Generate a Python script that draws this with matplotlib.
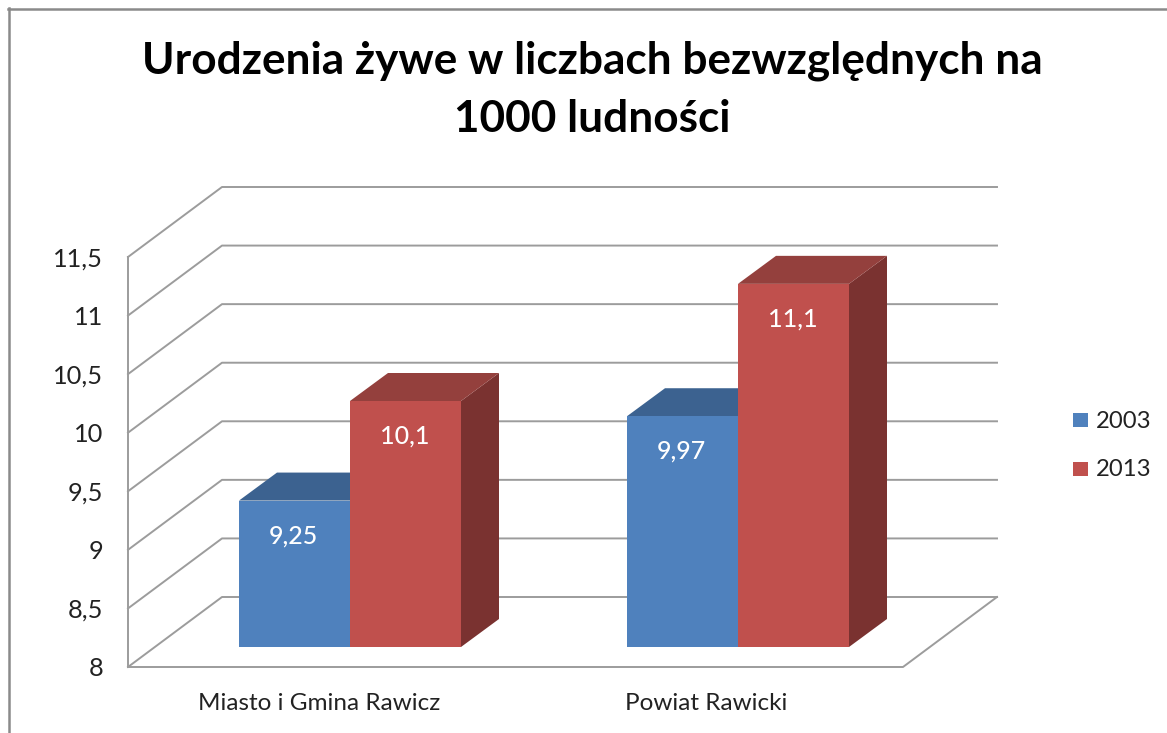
"""
plot.py - 3D-look clustered bars, Excel style.
"""
import matplotlib; matplotlib.use('Agg')
import matplotlib.pyplot as plt
from matplotlib.patches import Polygon

categories = ['Miasto i Gmina Rawicz', 'Powiat Rawicki']
years = ['2003', '2013']
v2003 = [9.25, 9.97]
v2013 = [10.1, 11.1]
labels2003 = ['9,25', '9,97']
labels2013 = ['10,1', '11,1']
yticks = [8, 8.5, 9, 9.5, 10, 10.5, 11, 11.5]
ytick_labels = ['8', '8,5', '9', '9,5', '10', '10,5', '11', '11,5']

plt.rcParams['font.family'] = ['Lato', 'DejaVu Sans']
W, H = 1167, 733
fig = plt.figure(figsize=(W/100, H/100), dpi=100)
ax = fig.add_axes([0, 0, 1, 1])
ax.set_xlim(0, W); ax.set_ylim(H, 0); ax.axis('off')

# front wall: x=128, y for 8 -> 667, 11.5 -> 257; depth offset
x0, x1 = 128, 903
dx, dy = 94, -70
def ypx(v):
    return 667 - (v - 8) * (667 - 257) / 3.5

grid = '#9c9c9c'
# frame
ax.plot([8.5, 8.5], [8, H], color='#8a8a8a', lw=1.8)
ax.plot([8, W], [8.5, 8.5], color='#8a8a8a', lw=1.8)

for t, lab in zip(yticks, ytick_labels):
    y = ypx(t)
    ax.plot([x0, x0+dx, 997], [y, y+dy, y+dy], color=grid, lw=1.4, zorder=1)
    ax.text(103, y+2, lab, ha='right', va='center', fontsize=18.3, color='#222222')
ax.plot([x0, x0], [ypx(8), ypx(11.5)], color=grid, lw=1.4, zorder=1)
# floor outline
ax.plot([x0, x1, 997], [ypx(8), ypx(8), ypx(8)+dy], color=grid, lw=1.4, zorder=1)

# bars
bar_w = 111
bar_dx, bar_dy = 38, -28
base = 647
cols = {'2003': ('#4f81bd', '#3c6290', '#2f4d72'), '2013': ('#c0504d', '#94403d', '#7a3230')}
lefts = [239, 627]
def bar_y(v):
    return base - (v - 8) * (667 - 257) / 3.5

def draw_bar(x, v, year, lab):
    f, top, side = cols[year]
    y = bar_y(v)
    ax.add_patch(Polygon([(x+bar_w, base), (x+bar_w+bar_dx, base+bar_dy), (x+bar_w+bar_dx, y+bar_dy), (x+bar_w, y)], fc=side, ec='none', zorder=3))
    ax.add_patch(Polygon([(x, y), (x+bar_dx, y+bar_dy), (x+bar_w+bar_dx, y+bar_dy), (x+bar_w, y)], fc=top, ec='none', zorder=3))
    ax.add_patch(Polygon([(x, base), (x, y), (x+bar_w, y), (x+bar_w, base)], fc=f, ec='none', zorder=4))
    ax.text(x+bar_w/2-1, y+35, lab, ha='center', va='center', color='white', fontsize=18, fontweight='medium', zorder=5)

for i, cat in enumerate(categories):
    draw_bar(lefts[i], v2003[i], '2003', labels2003[i])
    draw_bar(lefts[i]+bar_w, v2013[i], '2013', labels2013[i])
    ax.text(lefts[i]+bar_w+(-31 if i == 0 else -32), 704, cat, ha='center', va='center', fontsize=17.5, color='#222222')

# legend
for y, yr in zip([420, 469], years):
    ax.add_patch(Polygon([(1073, y-7), (1088, y-7), (1088, y+7), (1073, y+7)], fc=cols[yr][0], ec='none'))
    ax.text(1096, y+1, yr, ha='left', va='center', fontsize=17.2, color='#222222')

ax.text(592, 61, 'Urodzenia żywe w liczbach bezwzględnych na', ha='center', va='center',
        fontsize=31.75, fontweight='bold', color='black')
ax.text(592, 119, '1000 ludności', ha='center', va='center',
        fontsize=31.75, fontweight='bold', color='black')

fig.savefig('out.png', dpi=100)
